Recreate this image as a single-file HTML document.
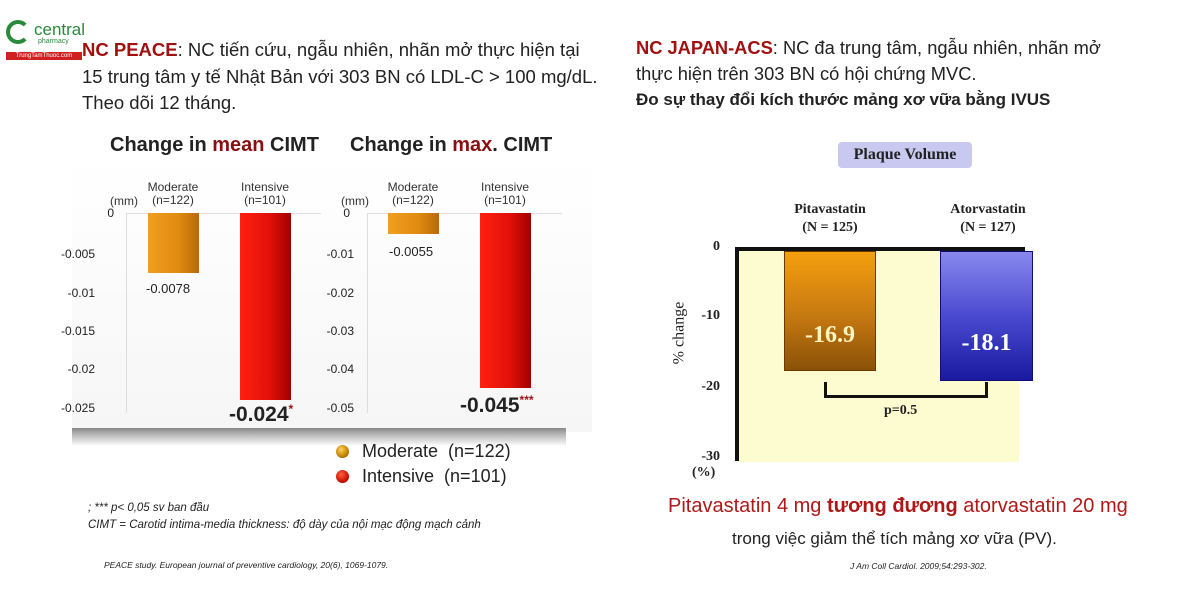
<!DOCTYPE html>
<html><head><meta charset="utf-8"><style>
body{margin:0;width:1200px;height:600px;background:#fff;position:relative;overflow:hidden;font-family:"Liberation Sans",sans-serif}
.a{position:absolute;white-space:nowrap}
.t{font-size:18.5px;color:#222;line-height:21px}
.r{color:#a01010;font-weight:bold}
.tk{font-size:12px;color:#222;text-align:right;width:50px}
.hd{font-size:12px;color:#333;text-align:center;width:80px;line-height:13px}
.bo{background:linear-gradient(90deg,#f0a020,#e08a10 60%,#b86a08)}
.br{background:linear-gradient(90deg,#ff2010,#e01008 60%,#a00000)}
.tf{font-family:"Liberation Serif",serif;font-weight:bold;color:#222}
</style></head><body>
<div class="a" style="left:6px;top:20px;width:24px;height:24px;border:4px solid #2a8a3a;border-radius:50%;border-right-color:transparent;box-sizing:border-box"></div>
<div class="a" style="left:34px;top:20px;font-size:17px;color:#2a8a3a">central</div>
<div class="a" style="left:38px;top:38px;font-size:7px;color:#2a8a3a">pharmacy</div>
<div class="a" style="left:6px;top:52px;width:76px;height:8px;background:#d02020;font-size:6px;color:#fff;line-height:8px;text-align:center">TrungTamThuoc.com</div>
<div class="a t" style="left:82px;top:39px"><span class="r">NC PEACE</span>: NC tiến cứu, ngẫu nhiên, nhãn mở thực hiện tại</div>
<div class="a t" style="left:82px;top:66px">15 trung tâm y tế Nhật Bản với 303 BN có LDL-C &gt; 100 mg/dL.</div>
<div class="a t" style="left:82px;top:92px">Theo dõi 12 tháng.</div>
<div class="a" style="left:110px;top:134px;font-size:20px;font-weight:bold;color:#222">Change in <span style="color:#8a1010">mean</span> CIMT</div>
<div class="a" style="left:350px;top:134px;font-size:20px;font-weight:bold;color:#222">Change in <span style="color:#8a1010">max</span>. CIMT</div>
<div class="a" style="left:72px;top:160px;width:520px;height:272px;background:linear-gradient(#fff,#f6f6f6)"></div>
<div class="a" style="left:72px;top:428px;width:494px;height:18px;background:linear-gradient(#888,#bbb 40%,#fff)"></div>
<div class="a" style="left:126px;top:213px;width:195px;height:1px;background:#ddd"></div>
<div class="a" style="left:126px;top:213px;width:1px;height:200px;background:#ddd"></div>
<div class="a hd" style="left:84px;top:195px">(mm)</div>
<div class="a tk" style="left:64px;top:206px">0</div>
<div class="a tk" style="left:45px;top:247px">-0.005</div>
<div class="a tk" style="left:45px;top:286px">-0.01</div>
<div class="a tk" style="left:45px;top:324px">-0.015</div>
<div class="a tk" style="left:45px;top:362px">-0.02</div>
<div class="a tk" style="left:45px;top:401px">-0.025</div>
<div class="a hd" style="left:133px;top:181px">Moderate<br>(n=122)</div>
<div class="a hd" style="left:225px;top:181px">Intensive<br>(n=101)</div>
<div class="a bo" style="left:148px;top:213px;width:51px;height:60px"></div>
<div class="a br" style="left:240px;top:213px;width:51px;height:187px"></div>
<div class="a" style="left:146px;top:281px;font-size:13px;color:#222">-0.0078</div>
<div class="a" style="left:229px;top:402px;font-size:21px;font-weight:bold;color:#222">-0.024<sup style="color:#a01010;font-size:12px">*</sup></div>
<div class="a" style="left:367px;top:213px;width:195px;height:1px;background:#ddd"></div>
<div class="a" style="left:367px;top:213px;width:1px;height:200px;background:#ddd"></div>
<div class="a hd" style="left:315px;top:195px">(mm)</div>
<div class="a tk" style="left:300px;top:206px">0</div>
<div class="a tk" style="left:304px;top:247px">-0.01</div>
<div class="a tk" style="left:304px;top:286px">-0.02</div>
<div class="a tk" style="left:304px;top:324px">-0.03</div>
<div class="a tk" style="left:304px;top:362px">-0.04</div>
<div class="a tk" style="left:304px;top:401px">-0.05</div>
<div class="a hd" style="left:373px;top:181px">Moderate<br>(n=122)</div>
<div class="a hd" style="left:465px;top:181px">Intensive<br>(n=101)</div>
<div class="a bo" style="left:388px;top:213px;width:51px;height:21px"></div>
<div class="a br" style="left:480px;top:213px;width:51px;height:175px"></div>
<div class="a" style="left:389px;top:244px;font-size:13px;color:#222">-0.0055</div>
<div class="a" style="left:460px;top:393px;font-size:21px;font-weight:bold;color:#222">-0.045<sup style="color:#a01010;font-size:12px">***</sup></div>
<div class="a" style="left:336px;top:445px;width:13px;height:13px;border-radius:50%;background:radial-gradient(circle at 40% 35%,#ffd060,#c08000 60%,#604000)"></div>
<div class="a" style="left:362px;top:441px;font-size:18px;color:#222">Moderate&nbsp; (n=122)</div>
<div class="a" style="left:336px;top:470px;width:13px;height:13px;border-radius:50%;background:radial-gradient(circle at 40% 35%,#ff6040,#d01000 60%,#600000)"></div>
<div class="a" style="left:362px;top:466px;font-size:18px;color:#222">Intensive&nbsp; (n=101)</div>
<div class="a" style="left:88px;top:502px;font-size:11.5px;font-style:italic;color:#222">; *** p&lt; 0,05 sv ban đầu</div>
<div class="a" style="left:88px;top:519px;font-size:11.5px;font-style:italic;color:#222">CIMT = Carotid intima-media thickness: độ dày của nội mạc động mạch cảnh</div>
<div class="a" style="left:104px;top:560px;font-size:8.5px;font-style:italic;color:#222">PEACE study. European journal of preventive cardiology, 20(6), 1069-1079.</div>
<div class="a t" style="left:636px;top:37px;font-size:18.3px"><span class="r">NC JAPAN-ACS</span>: NC đa trung tâm, ngẫu nhiên, nhãn mở</div>
<div class="a t" style="left:636px;top:63px;font-size:18.3px">thực hiện trên 303 BN có hội chứng MVC.</div>
<div class="a t" style="left:636px;top:89px;font-size:17px;font-weight:bold">Đo sự thay đổi kích thước mảng xơ vữa bằng IVUS</div>
<div class="a tf" style="left:838px;top:142px;width:134px;height:26px;background:#c8c8f0;border-radius:4px;text-align:center;line-height:26px;font-size:16px">Plaque Volume</div>
<div class="a tf" style="left:770px;top:201px;width:120px;text-align:center;font-size:14px;line-height:18px">Pitavastatin<br>(N = 125)</div>
<div class="a tf" style="left:928px;top:201px;width:120px;text-align:center;font-size:14px;line-height:18px">Atorvastatin<br>(N = 127)</div>
<div class="a" style="left:737px;top:250px;width:282px;height:212px;background:#fdfbd0"></div>
<div class="a" style="left:735px;top:247px;width:4px;height:214px;background:#111"></div>
<div class="a" style="left:735px;top:247px;width:290px;height:4px;background:#111"></div>
<div class="a" style="left:784px;top:251px;width:92px;height:120px;background:linear-gradient(#f5a010,#c57810 55%,#8a5208);border:1px solid #6a3a00;box-sizing:border-box"></div>
<div class="a" style="left:940px;top:251px;width:93px;height:130px;background:linear-gradient(#8888ee,#4a4ad0 50%,#1a1aa0);border:1px solid #101070;box-sizing:border-box"></div>
<div class="a tf" style="left:784px;top:322px;width:92px;text-align:center;font-size:24px;color:#fff3c0">-16.9</div>
<div class="a tf" style="left:940px;top:330px;width:93px;text-align:center;font-size:24px;color:#fff">-18.1</div>
<div class="a" style="left:824px;top:382px;width:164px;height:16px;border:3px solid #111;border-top:none;box-sizing:border-box"></div>
<div class="a tf" style="left:884px;top:403px;font-size:14px">p=0.5</div>
<div class="a tf" style="left:690px;top:239px;width:30px;text-align:right;font-size:14px">0</div>
<div class="a tf" style="left:690px;top:308px;width:30px;text-align:right;font-size:14px">-10</div>
<div class="a tf" style="left:690px;top:379px;width:30px;text-align:right;font-size:14px">-20</div>
<div class="a tf" style="left:690px;top:449px;width:30px;text-align:right;font-size:14px">-30</div>
<div class="a tf" style="left:692px;top:465px;font-size:14px">(%)</div>
<div class="a tf" style="left:648px;top:324px;font-size:16px;font-weight:normal;transform:rotate(-90deg);transform-origin:center">% change</div>
<div class="a" style="left:668px;top:495px;font-size:20px;color:#b01818">Pitavastatin 4 mg <b>tương đương</b> atorvastatin 20 mg</div>
<div class="a" style="left:732px;top:529px;font-size:17px;color:#222">trong việc giảm thể tích mảng xơ vữa (PV).</div>
<div class="a" style="left:850px;top:561px;font-size:8.5px;font-style:italic;color:#222">J Am Coll Cardiol. 2009;54:293-302.</div>
</body></html>
